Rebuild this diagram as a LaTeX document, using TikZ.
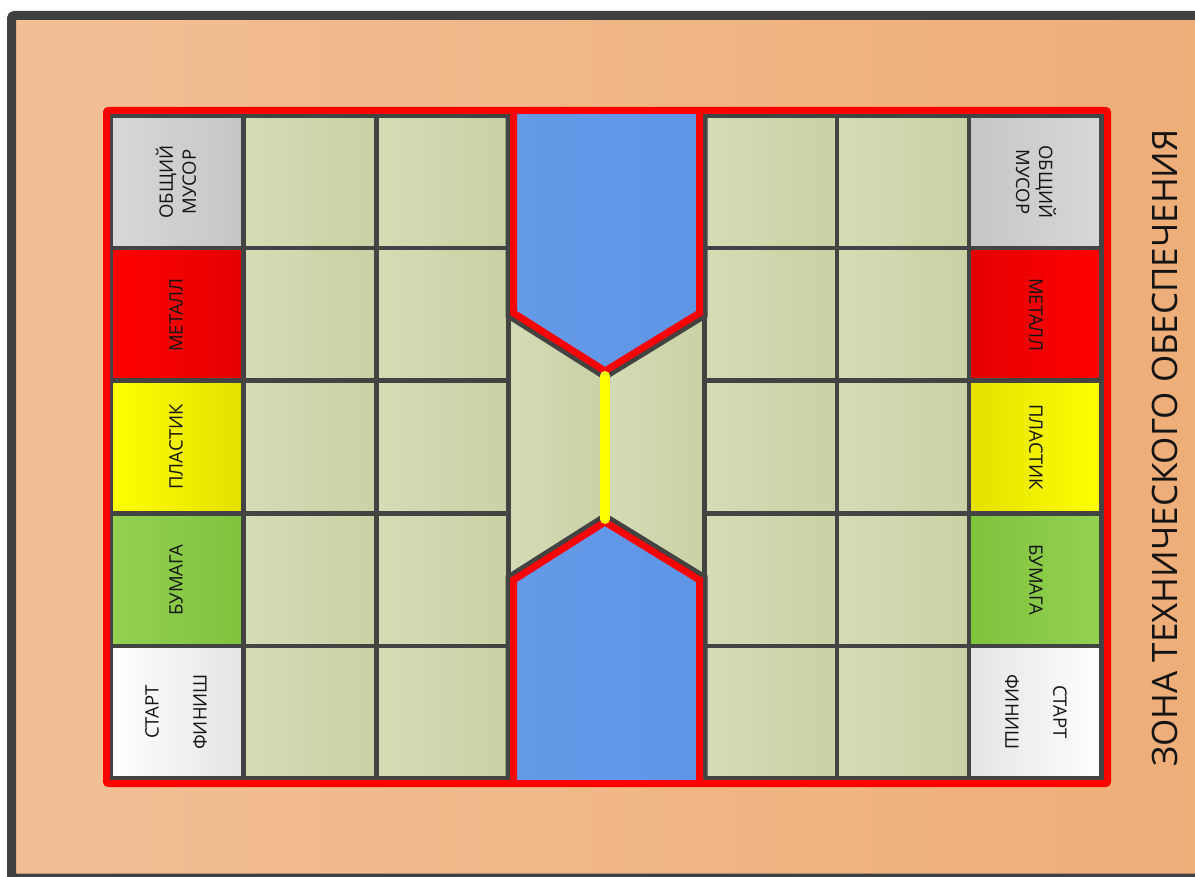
\documentclass[tikz,border=0pt]{standalone}
\usepackage{fontspec}
\setmainfont{Open Sans}
\definecolor{peachL}{HTML}{F2BF95}
\definecolor{peachR}{HTML}{EDAD77}
\definecolor{framegray}{HTML}{404040}
\definecolor{gridgray}{HTML}{434343}
\definecolor{redframe}{HTML}{FF0000}
\definecolor{bluel}{HTML}{659AE8}
\definecolor{bluer}{HTML}{5E95E5}
\definecolor{grnL}{HTML}{D4DCB5}
\definecolor{grnR}{HTML}{C8D2A4}
\definecolor{grayL}{HTML}{D8D8D8}
\definecolor{grayR}{HTML}{C6C6C6}
\definecolor{redL}{HTML}{FF0000}
\definecolor{redR}{HTML}{E40000}
\definecolor{yelL}{HTML}{FFFF00}
\definecolor{yelR}{HTML}{E4E000}
\definecolor{papL}{HTML}{94D152}
\definecolor{papR}{HTML}{7EC33C}
\definecolor{whtL}{HTML}{FFFFFF}
\definecolor{whtR}{HTML}{E4E4E4}
\definecolor{txt}{HTML}{141414}
\definecolor{yline}{HTML}{FFFF00}
\begin{document}
\begin{tikzpicture}[x=1pt,y=-1pt,
  cellbox/.style={draw=gridgray, line width=4.5pt},
  lbl/.style={font=\fontsize{18.5}{23}\selectfont, text=txt, align=center, inner sep=0pt},
  titlelbl/.style={font=\fontsize{35}{40}\selectfont, text=txt, inner sep=0pt},
]
\useasboundingbox (0,0) rectangle (1195,877);
\begin{scope}
  \clip (0,0) rectangle (1195,877);
  \fill[white] (0,0) rectangle (1195,877);
  \path[left color=peachL, right color=peachR] (11.5,15.5) rectangle (1240,878);
  \draw[line width=9pt, draw=framegray, rounded corners=3pt] (11.5,15.5) rectangle (1240,878);
\end{scope}

% green playing cells
\foreach \xa/\xb in {243.7/376.3, 376.3/508.5, 704.5/836.8, 836.8/969.2}{
  \foreach \ya/\yb in {115.5/248.1, 248.1/380.7, 380.7/513.3, 513.3/645.9, 645.9/778.5}{
    \path[left color=grnL, right color=grnR] (\xa,\ya) rectangle (\xb,\yb);
  }
}
% coloured bins, left column
\path[left color=grayL, right color=grayR] (111,115.5) rectangle (243.7,248.1);
\path[left color=redL, right color=redR] (111,248.1) rectangle (243.7,380.7);
\path[left color=yelL, right color=yelR] (111,380.7) rectangle (243.7,513.3);
\path[left color=papL, right color=papR] (111,513.3) rectangle (243.7,645.9);
\path[left color=whtL, right color=whtR] (111,645.9) rectangle (243.7,778.5);
% coloured bins, right column
\path[left color=grayR, right color=grayL] (969.2,115.5) rectangle (1101.5,248.1);
\path[left color=redR, right color=redL] (969.2,248.1) rectangle (1101.5,380.7);
\path[left color=yelR, right color=yelL] (969.2,380.7) rectangle (1101.5,513.3);
\path[left color=papR, right color=papL] (969.2,513.3) rectangle (1101.5,645.9);
\path[left color=whtR, right color=whtL] (969.2,645.9) rectangle (1101.5,778.5);
% grid lines
\foreach \xa/\xb in {111/243.7, 243.7/376.3, 376.3/508.5, 704.5/836.8, 836.8/969.2, 969.2/1101.5}{
  \foreach \ya/\yb in {115.5/248.1, 248.1/380.7, 380.7/513.3, 513.3/645.9, 645.9/778.5}{
    \draw[cellbox] (\xa,\ya) rectangle (\xb,\yb);
  }
}
% middle hourglass
\path[left color=grnL, right color=grnR] (508.5,115.5) rectangle (605,778.5);
\path[left color=grnL, right color=grnR] (605,115.5) rectangle (704.5,778.5);
\draw[cellbox] (508.5,115.5) -- (508.5,778.5);
\draw[cellbox] (704.5,115.5) -- (704.5,778.5);
% blue water areas
\draw[draw=gridgray, line width=16pt] (513.5,110.5) -- (513.5,313) -- (605,371) -- (699.5,313) -- (699.5,110.5);
\path[left color=bluel, right color=bluer] (513.5,110.5) -- (513.5,313) -- (605,371) -- (699.5,313) -- (699.5,110.5) -- cycle;
\draw[draw=redframe, line width=7pt] (513.5,110.5) -- (513.5,313) -- (605,371) -- (699.5,313) -- (699.5,110.5);
\draw[draw=gridgray, line width=16pt] (513.5,783.5) -- (513.5,580) -- (605,522) -- (699.5,580) -- (699.5,783.5);
\path[left color=bluel, right color=bluer] (513.5,783.5) -- (513.5,580) -- (605,522) -- (699.5,580) -- (699.5,783.5) -- cycle;
\draw[draw=redframe, line width=7pt] (513.5,783.5) -- (513.5,580) -- (605,522) -- (699.5,580) -- (699.5,783.5);
% red field frame
\draw[draw=redframe, line width=7pt, rounded corners=2pt] (106.5,110.5) rectangle (1107.5,783.5);
% yellow line
\draw[draw=yline, line width=10pt, line cap=round] (605,376) -- (605,519);

% labels left
\node[lbl, rotate=90] (lmus) at (176,182) {ОБЩИЙ\\МУСОР};
\node[lbl, rotate=90] (lmet) at (176,315) {МЕТАЛЛ};
\node[lbl, rotate=90] (lpla) at (176,447) {ПЛАСТИК};
\node[lbl, rotate=90] (lbum) at (176,580) {БУМАГА};
\node[lbl, rotate=90] (lsta) at (152,712) {СТАРТ};
\node[lbl, rotate=90] (lfin) at (200,712) {ФИНИШ};
% labels right
\node[lbl, rotate=-90] (rmus) at (1036,182) {ОБЩИЙ\\МУСОР};
\node[lbl, rotate=-90] (rmet) at (1036,315) {МЕТАЛЛ};
\node[lbl, rotate=-90] (rpla) at (1036,447) {ПЛАСТИК};
\node[lbl, rotate=-90] (rbum) at (1036,580) {БУМАГА};
\node[lbl, rotate=-90] (rsta) at (1060,712) {СТАРТ};
\node[lbl, rotate=-90] (rfin) at (1012,712) {ФИНИШ};
% title
\node[titlelbl, rotate=90] (zone) at (1165,448) {ЗОНА ТЕХНИЧЕСКОГО ОБЕСПЕЧЕНИЯ};
\end{tikzpicture}
\end{document}
